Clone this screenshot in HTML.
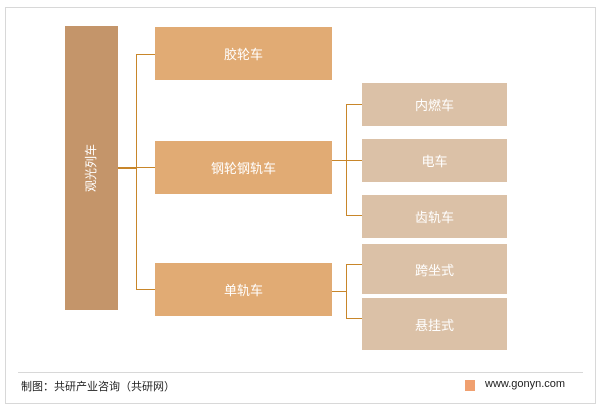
<!DOCTYPE html>
<html><head><meta charset="utf-8"><style>
body{margin:0;width:601px;height:412px;background:#fff;position:relative;overflow:hidden;font-family:"Liberation Sans","Noto Sans CJK SC",sans-serif}
.b{position:absolute;color:#fff;font-size:13px;display:flex;align-items:center;justify-content:center}
.m{background:#e1ab74;left:155px;width:177px}
.r{background:#dbc1a7;left:362px;width:145px}
.l{position:absolute;background:#c8862a}
</style></head><body>
<div style="position:absolute;left:5px;top:7px;width:589px;height:395px;border:1px solid #d8d8d8"></div>
<div style="position:absolute;left:65px;top:26px;width:53px;height:284px;background:#c4956a;"></div>
<div style="position:absolute;left:51px;top:160px;width:80px;height:16px;line-height:16px;text-align:center;color:#fff;font-size:12px;transform:rotate(-90deg);white-space:nowrap">观光列车</div>
<div class="b m" style="top:27px;height:53px">胶轮车</div>
<div class="b m" style="top:141px;height:53px">钢轮钢轨车</div>
<div class="b m" style="top:263px;height:53px">单轨车</div>
<div class="b r" style="top:83px;height:43px">内燃车</div>
<div class="b r" style="top:139px;height:43px">电车</div>
<div class="b r" style="top:195px;height:43px">齿轨车</div>
<div class="b r" style="top:244px;height:50px">跨坐式</div>
<div class="b r" style="top:298px;height:52px">悬挂式</div>
<div class="l" style="left:118px;top:167px;width:19px;height:2px"></div>
<div class="l" style="left:136px;top:54px;width:1px;height:236px"></div>
<div class="l" style="left:136px;top:54px;width:19px;height:1px"></div>
<div class="l" style="left:136px;top:167px;width:19px;height:1px"></div>
<div class="l" style="left:136px;top:289px;width:19px;height:1px"></div>
<div class="l" style="left:332px;top:160px;width:14px;height:1px"></div>
<div class="l" style="left:346px;top:104px;width:1px;height:112px"></div>
<div class="l" style="left:346px;top:104px;width:16px;height:1px"></div>
<div class="l" style="left:346px;top:160px;width:16px;height:1px"></div>
<div class="l" style="left:346px;top:215px;width:16px;height:1px"></div>
<div class="l" style="left:332px;top:291px;width:14px;height:1px"></div>
<div class="l" style="left:346px;top:264px;width:1px;height:55px"></div>
<div class="l" style="left:346px;top:264px;width:16px;height:1px"></div>
<div class="l" style="left:346px;top:318px;width:16px;height:1px"></div>
<div style="position:absolute;left:18px;top:372px;width:565px;height:1px;background:#d8d8d8"></div>
<div style="position:absolute;left:21px;top:378px;font-size:11px;color:#222">制图：共研产业咨询（共研网）</div>
<div style="position:absolute;left:465px;top:380px;width:10px;height:11px;background:#f0a070"></div>
<div style="position:absolute;left:485px;top:378px;font-size:11px;color:#222">www.gonyn.com</div>
</body></html>
